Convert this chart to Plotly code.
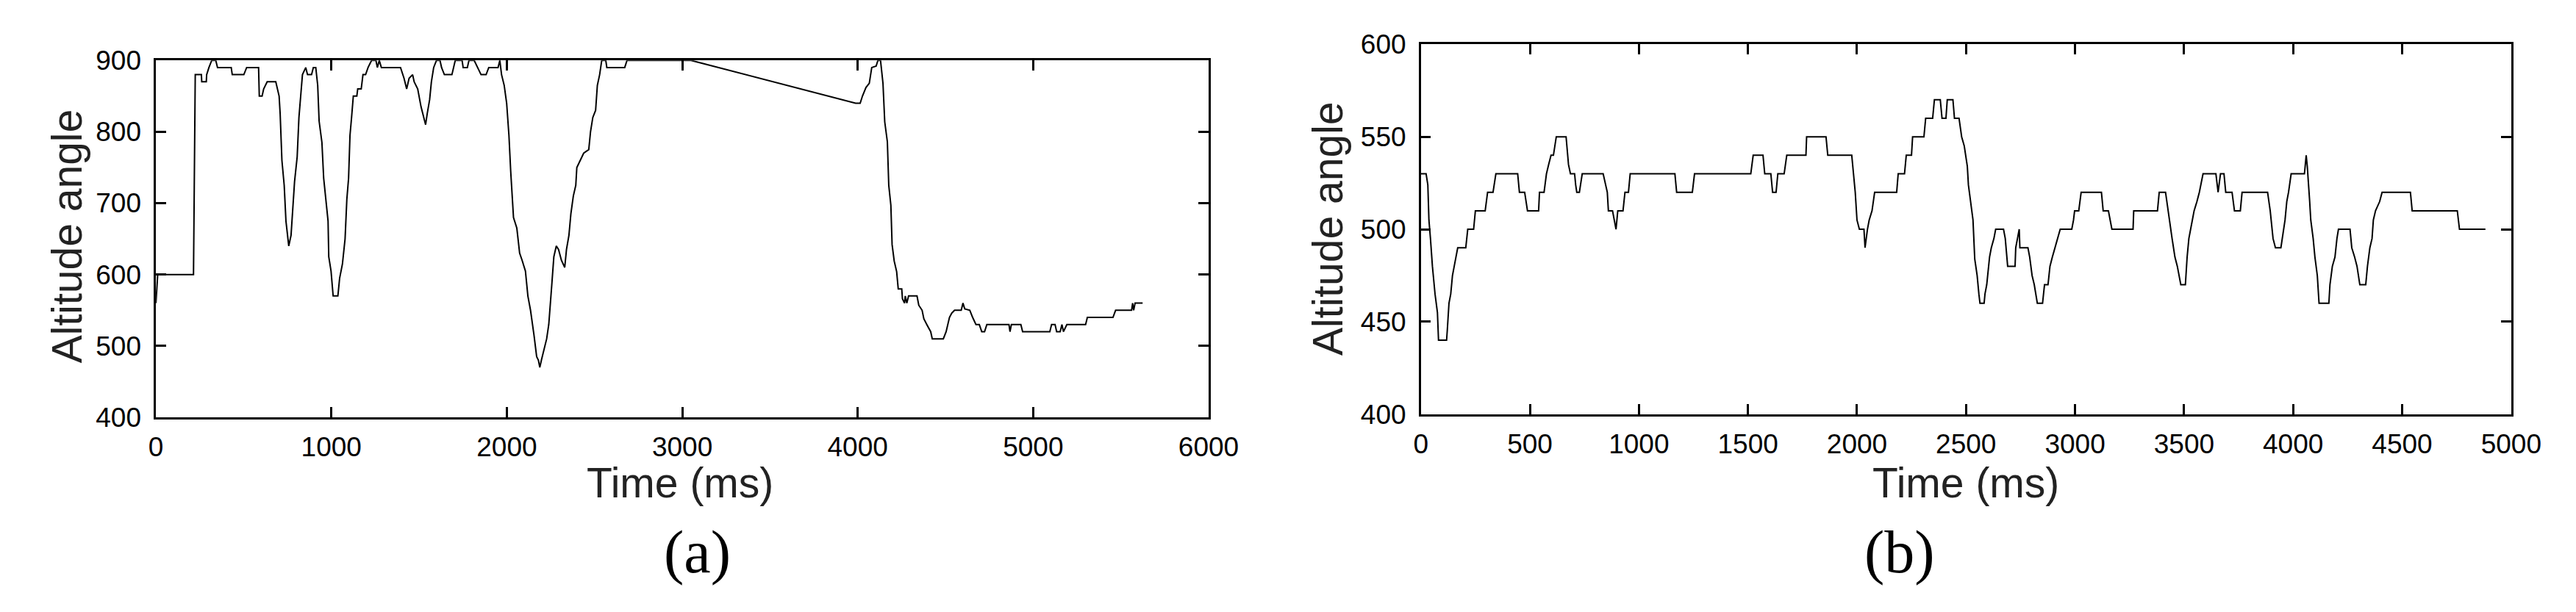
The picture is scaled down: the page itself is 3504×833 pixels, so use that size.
import plotly.graph_objects as go
from plotly.subplots import make_subplots

# panel (a): altitude angle over time
time_a = [0, 10, 214, 220, 224, 259, 261, 287, 289, 302, 318, 341, 351, 429, 435, 501, 517,
          585, 589, 605, 614, 634, 683, 702, 708, 718, 731, 741, 751, 757, 770, 780, 790,
          805, 815, 825, 835, 854, 864, 887, 897, 911, 922, 930, 946, 956, 969, 981, 985,
          998, 1010, 1037, 1047, 1063, 1078, 1088, 1098, 1106, 1115, 1125, 1145, 1150, 1170,
          1180, 1195, 1209, 1229, 1254, 1262, 1273, 1285, 1316, 1394, 1414, 1429, 1443, 1463,
          1472, 1492, 1511, 1525, 1537, 1546, 1560, 1570, 1583, 1599, 1619, 1628, 1644, 1687,
          1697, 1706, 1745, 1751, 1775, 1784, 1814, 1833, 1853, 1882, 1897, 1950, 1960, 1970,
          1985, 1999, 2012, 2022, 2038, 2057, 2073, 2087, 2106, 2120, 2135, 2155, 2170, 2180,
          2188, 2197, 2213, 2227, 2239, 2248, 2256, 2268, 2282, 2295, 2311, 2330, 2340, 2354,
          2365, 2379, 2393, 2399, 2418, 2438, 2467, 2477, 2490, 2506, 2516, 2529, 2541, 2564,
          2570, 2672, 2685, 3050, 3988, 4014, 4027, 4047, 4066, 4080, 4105, 4115, 4130, 4144,
          4154, 4169, 4177, 4189, 4196, 4208, 4222, 4231, 4251, 4255, 4267, 4271, 4280, 4290,
          4338, 4348, 4367, 4377, 4396, 4416, 4425, 4488, 4504, 4523, 4536, 4552, 4590, 4600,
          4610, 4639, 4655, 4674, 4693, 4707, 4723, 4736, 4862, 4868, 4876, 4930, 4940, 5095,
          5105, 5125, 5134, 5154, 5164, 5173, 5192, 5299, 5309, 5455, 5470, 5561, 5567, 5573,
          5581, 5624]
angle_a = [560, 600, 600, 740, 880, 880, 870, 870, 880, 890, 900, 900, 890, 890, 880, 880, 890,
           890, 850, 850, 860, 870, 870, 850, 825, 760, 725, 675, 655, 640, 655, 695, 730,
           765, 820, 850, 880, 890, 880, 880, 890, 890, 865, 815, 785, 735, 705, 675, 625,
           605, 570, 570, 595, 615, 650, 705, 735, 795, 820, 850, 850, 860, 860,
           880, 880, 890, 900, 900, 890, 900, 890, 890, 890, 875, 860, 875, 880,
           870, 860, 835, 820, 810, 825, 845, 870, 890, 900, 900, 890, 880, 880,
           890, 900, 900, 890, 890, 900, 900, 890, 880, 880, 890, 890, 900, 880,
           865, 840, 795, 745, 680, 665, 630, 620, 605, 570, 550, 515, 485, 480,
           470, 480, 495, 510, 530, 565, 585, 625, 640, 635, 620, 610, 635, 655,
           685, 710, 725, 750, 760, 770, 775, 800, 820, 830, 865, 880, 900, 900,
           890, 890, 900, 900, 840, 840, 850, 862, 868, 890, 892, 900, 900, 868,
           814, 786, 725, 697, 642, 619, 604, 580, 580, 566, 560, 570, 560, 570,
           570, 557, 550, 538, 529, 520, 510, 510, 520, 540, 546, 550, 550, 560,
           552, 550, 540, 530, 530, 520, 520, 530, 530, 520, 530, 530, 520, 520,
           530, 530, 520, 520, 530, 520, 530, 530, 540, 540, 550, 550, 560, 550,
           560, 560]

# panel (b): altitude angle over time
time_b = [0, 24, 32, 37, 44, 53, 65, 76, 81, 118, 121, 129, 137, 145, 153, 169, 206, 215, 242,
          250, 295, 306, 331, 344, 444, 452, 476, 489, 540, 544, 565, 576, 586, 597, 608, 621,
          666, 677, 686, 705, 710, 715, 727, 734, 740, 836, 847, 855, 860, 879, 887, 895, 903,
          927, 936, 952, 960, 1165, 1173, 1245, 1255, 1513, 1524, 1569, 1577, 1605, 1613, 1629,
          1637, 1666, 1678, 1766, 1769, 1858, 1866, 1976, 1984, 1992, 2000, 2011, 2032, 2037,
          2048, 2056, 2069, 2081, 2182, 2189, 2218, 2226, 2250, 2255, 2307, 2315, 2347, 2355,
          2382, 2390, 2408, 2414, 2440, 2447, 2468, 2480, 2492, 2506, 2511, 2522, 2532, 2540,
          2551, 2559, 2564, 2583, 2587, 2595, 2608, 2616, 2628, 2636, 2672, 2680, 2688, 2691,
          2725, 2728, 2736, 2744, 2747, 2784, 2792, 2803, 2813, 2821, 2827, 2851, 2860, 2876,
          2885, 2896, 2908, 2920, 2932, 2985, 2993, 2998, 3017, 3028, 3121, 3129, 3153, 3161,
          3169, 3266, 3269, 3378, 3386, 3415, 3426, 3434, 3445, 3458, 3469, 3485, 3506, 3514,
          3522, 3538, 3546, 3559, 3570, 3587, 3646, 3656, 3667, 3683, 3691, 3720, 3731, 3758,
          3766, 3883, 3895, 3908, 3919, 3944, 3955, 3963, 3971, 3979, 3991, 4052, 4060, 4065,
          4076, 4081, 4092, 4100, 4111, 4119, 4164, 4169, 4180, 4192, 4201, 4208, 4261, 4269,
          4282, 4293, 4306, 4333, 4341, 4352, 4362, 4368, 4378, 4397, 4408, 4538, 4546, 4753,
          4763, 4882]
angle_b = [530, 530, 524, 505, 495, 480, 465, 455, 440, 440, 445, 460, 465, 475, 480, 490, 490, 500, 500,
           510, 510, 520, 520, 530, 530, 520, 520, 510, 510, 520, 520, 530, 535, 540, 540, 550,
           550, 535, 530, 530, 524, 520, 520, 525, 530, 530, 524, 520, 510, 510, 505, 500, 510,
           510, 520, 520, 530, 530, 520, 520, 530, 530, 540, 540, 530, 530, 520, 520,
           530, 530, 540, 540, 550, 550, 540, 540, 530, 520, 505, 500, 500, 490,
           500, 505, 510, 520, 520, 530, 530, 540, 540, 550, 550, 560, 560, 570,
           570, 560, 560, 570, 570, 560, 560, 550, 545, 534, 524, 515, 505, 484,
           475, 465, 460, 460, 465, 470, 485, 490, 495, 500, 500, 495, 485, 480,
           480, 490, 495, 500, 490, 490, 485, 475, 470, 465, 460, 460, 470, 470,
           480, 485, 490, 495, 500, 500, 505, 510, 510, 520, 520, 510, 510, 505,
           500, 500, 510, 510, 520, 520, 510, 505, 495, 485, 480, 470, 470, 485,
           495, 505, 510, 515, 520, 530, 530, 520, 530, 530, 520, 520, 510, 510,
           520, 520, 510, 495, 490, 490, 500, 505, 515, 520, 530, 530, 540, 534,
           515, 505, 495, 485, 475, 460, 460, 470, 480, 485, 495, 500, 500, 490,
           485, 480, 470, 470, 480, 490, 495, 505, 510, 515, 520, 520, 510, 510,
           500, 500]

W, H = 3504, 833
sans = "Liberation Sans, Arial, sans-serif"
serif = "Liberation Serif, Times New Roman, serif"

fig = make_subplots(rows=1, cols=2)
fig.add_trace(go.Scatter(x=time_a, y=angle_a, mode="lines",
                         line=dict(color="black", width=2)), row=1, col=1)
fig.add_trace(go.Scatter(x=time_b, y=angle_b, mode="lines",
                         line=dict(color="black", width=2)), row=1, col=2)

axis_style = dict(showgrid=False, zeroline=False, showline=True, linecolor="black",
                  linewidth=2.5, mirror="ticks", ticks="inside", ticklen=14,
                  tickwidth=2.5, tickcolor="black",
                  tickfont=dict(family=sans, size=37, color="black"))

fig.update_xaxes(axis_style)
fig.update_yaxes(axis_style)
fig.update_xaxes(range=[0, 6000], dtick=1000, tick0=0, domain=[197 / W, 1650 / W],
                 ticklabelstandoff=6, row=1, col=1)
fig.update_yaxes(range=[400, 900], dtick=100, tick0=400, domain=[1 - 568 / H, 1 - 57 / H],
                 ticklabelstandoff=10, row=1, col=1)
fig.update_xaxes(range=[0, 5000], dtick=500, tick0=0, domain=[1943 / W, 3448 / W],
                 ticklabelstandoff=6, row=1, col=2)
fig.update_yaxes(range=[400, 600], dtick=50, tick0=400, domain=[1 - 563.5 / H, 1 - 34 / H],
                 ticklabelstandoff=10, row=1, col=2)

title_font = dict(family=sans, size=57, color="#222222")
label_font = dict(family=serif, size=82, color="black")
texts = [
    ("Altitude angle", 73.5, 309, -90, title_font),
    ("Altitude angle", 1815, 298, -90, title_font),
    ("Time (ms)", 920, 662, 0, title_font),
    ("Time (ms)", 2695, 662, 0, title_font),
    ("(a)", 944, 761, 0, label_font),
    ("(b)", 2604, 761, 0, label_font),
]
for txt, px, py, ang, fnt in texts:
    fig.add_annotation(text=txt, x=px / W, y=1 - py / H, xref="paper", yref="paper",
                       xanchor="center", yanchor="middle", showarrow=False,
                       textangle=ang, font=fnt)

fig.update_layout(width=W, height=H, margin=dict(l=0, r=0, t=0, b=0),
                  paper_bgcolor="white", plot_bgcolor="white", showlegend=False)

fig.write_html("out.html")
